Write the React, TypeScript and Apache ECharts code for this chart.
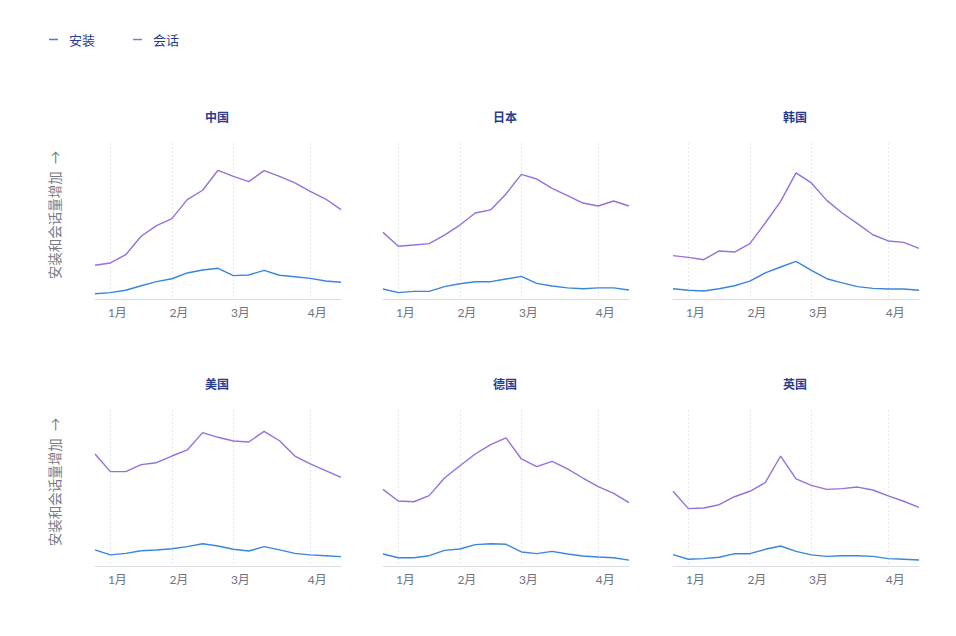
import React, { useEffect, useRef } from "react";
import * as echarts from "echarts";

// x categories: 17 weekly points, month labels shown at month boundaries
const weekLabels = ["", "1月", "", "", "", "2月", "", "", "", "3月", "", "", "", "", "4月", "", ""];

const countries = ["中国", "日本", "韩国", "美国", "德国", "英国"];
const seriesNames = ["安装", "会话"];

const chinaInstalls = [3.4, 4.1, 5.6, 8.5, 11.1, 13.0, 16.7, 18.6, 19.7, 15.0, 15.4, 18.4, 15.2, 14.3, 13.2, 11.5, 10.7];
const chinaSessions = [21.6, 23.1, 28.4, 40.2, 47.0, 51.5, 63.7, 69.7, 82.5, 78.6, 75.2, 82.3, 78.6, 74.4, 69.0, 64.1, 57.3];

const japanInstalls = [6.4, 4.1, 4.9, 4.9, 7.9, 9.8, 11.1, 11.1, 12.8, 14.5, 10.0, 8.3, 7.1, 6.6, 7.1, 7.1, 5.8];
const japanSessions = [42.7, 33.8, 34.6, 35.5, 41.0, 47.4, 55.1, 57.1, 67.3, 79.9, 76.9, 70.9, 66.2, 61.5, 59.6, 62.8, 59.6];

const koreaInstalls = [6.6, 5.6, 5.1, 6.6, 8.5, 11.5, 16.7, 20.5, 24.1, 18.4, 13.0, 10.3, 7.9, 6.8, 6.4, 6.4, 5.6];
const koreaSessions = [27.8, 26.7, 25.2, 30.8, 30.1, 35.5, 48.7, 62.6, 80.8, 74.4, 63.2, 55.1, 48.3, 41.2, 37.2, 36.3, 32.5];

const usInstalls = [10.3, 7.1, 8.1, 9.8, 10.3, 11.1, 12.4, 14.3, 12.8, 10.7, 9.6, 12.4, 10.3, 8.1, 7.1, 6.6, 6.0];
const usSessions = [71.8, 60.5, 60.5, 65.0, 66.2, 70.5, 74.4, 85.5, 82.5, 80.1, 79.5, 86.3, 80.3, 70.5, 65.4, 61.1, 56.8];

const germanyInstalls = [7.7, 5.3, 5.3, 6.6, 10.0, 10.9, 13.7, 14.3, 13.9, 9.0, 7.9, 9.4, 7.7, 6.4, 5.8, 5.3, 3.8];
const germanySessions = [49.1, 41.7, 41.2, 45.1, 56.4, 64.3, 71.8, 77.8, 82.1, 68.6, 63.7, 67.1, 62.2, 56.4, 50.9, 46.6, 40.6];

const ukInstalls = [7.3, 4.3, 4.7, 5.6, 7.9, 7.9, 10.7, 12.8, 9.4, 7.1, 6.2, 6.6, 6.6, 6.2, 4.7, 4.3, 3.8];
const ukSessions = [47.9, 36.8, 37.2, 39.3, 44.4, 47.9, 53.4, 70.5, 55.8, 51.7, 49.1, 49.6, 50.6, 48.7, 44.9, 41.5, 37.6];

const installsByCountry = [chinaInstalls, japanInstalls, koreaInstalls, usInstalls, germanyInstalls, ukInstalls];
const sessionsByCountry = [chinaSessions, japanSessions, koreaSessions, usSessions, germanySessions, ukSessions];

const yAxisTitle = "安装和会话量增加  →";

const BLUE = "#3a86db";
const PURPLE = "#9670dc";
const NAVY = "#283d8e";
const GRAY = "#6e7380";
const FONT = "Lato, 'Noto Sans CJK SC', sans-serif";

export default function App() {
  const ref = useRef<HTMLDivElement>(null);

  useEffect(() => {
    if (!ref.current) return;
    const chart = echarts.init(ref.current, undefined, { renderer: "svg" });

    const lefts = [95, 383, 673];
    const tops = [143, 410];
    const W = 246;
    const H = 156;

    const grids: any[] = [];
    const xAxes: any[] = [];
    const yAxes: any[] = [];
    const series: any[] = [];
    const titles: any[] = [];
    const graphics: any[] = [];

    countries.forEach((name, i) => {
      const row = Math.floor(i / 3);
      const col = i % 3;
      const left = lefts[col];
      const top = tops[row];
      grids.push({ left, top, width: W, height: H, containLabel: false });
      xAxes.push({
        type: "category",
        gridIndex: i,
        data: weekLabels,
        boundaryGap: false,
        axisLine: { lineStyle: { color: "#d9dee9", width: 1 } },
        axisTick: { show: false },
        axisLabel: {
          interval: 0,
          color: GRAY,
          fontSize: 12,
          fontFamily: FONT,
          margin: 7,
          padding: [0, 0, 0, 14],
        },
        splitLine: {
          show: true,
          interval: (idx: number) => weekLabels[idx] !== "",
          lineStyle: { color: "#e6e8ef", type: [2, 2], width: 1 },
        },
      });
      yAxes.push({
        type: "value",
        gridIndex: i,
        min: 0,
        max: 100,
        axisLine: { show: false },
        axisTick: { show: false },
        axisLabel: { show: false },
        splitLine: { show: false },
      });
      series.push({
        name: seriesNames[0],
        type: "line",
        xAxisIndex: i,
        yAxisIndex: i,
        data: installsByCountry[i],
        symbol: "none",
        lineStyle: { color: BLUE, width: 1.4 },
        itemStyle: { color: BLUE },
      });
      series.push({
        name: seriesNames[1],
        type: "line",
        xAxisIndex: i,
        yAxisIndex: i,
        data: sessionsByCountry[i],
        symbol: "none",
        lineStyle: { color: PURPLE, width: 1.4 },
        itemStyle: { color: PURPLE },
      });
      titles.push({
        text: name,
        left: left + W / 2 - 1,
        top: top - 32,
        padding: 0,
        textAlign: "center",
        textStyle: { color: NAVY, fontSize: 12, fontWeight: "bold", fontFamily: FONT },
      });
      if (col === 0) {
        graphics.push({
          type: "text",
          x: 55,
          y: top + H / 2 - 6,
          rotation: Math.PI / 2,
          style: {
            text: yAxisTitle,
            fill: "#777b85",
            fontSize: 13.5,
            fontFamily: FONT,
            align: "center",
            verticalAlign: "middle",
          },
        });
      }
    });

    chart.setOption({
      animation: false,
      backgroundColor: "#ffffff",
      title: titles,
      legend: {
        data: seriesNames,
        left: 44,
        top: 28,
        icon: "rect",
        itemWidth: 9,
        itemHeight: 1.5,
        itemGap: 38,
        textStyle: { color: NAVY, fontSize: 13, fontFamily: FONT, padding: [0, 0, 0, 6] },
      },
      grid: grids,
      xAxis: xAxes,
      yAxis: yAxes,
      series,
      graphic: graphics,
    });

    return () => chart.dispose();
  }, []);

  return (
    <div
      ref={ref}
      style={{ position: "absolute", left: 0, top: 0, width: 956, height: 636 }}
    />
  );
}
